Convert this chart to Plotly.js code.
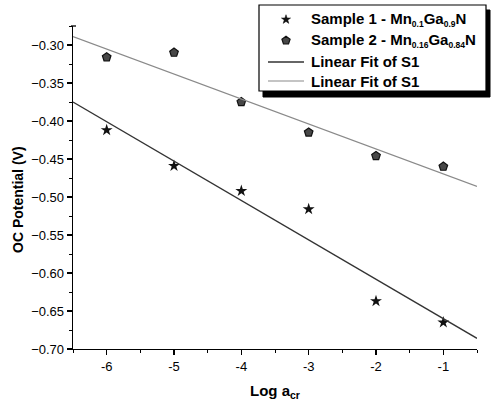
<!DOCTYPE html>
<html>
<head>
<meta charset="utf-8">
<script src="https://cdn.plot.ly/plotly-3.0.1.min.js"></script>
<style>html,body{margin:0;padding:0;background:#fff;}#chart{width:492px;height:401px;}</style>
</head>
<body>
<div id="chart"></div>
<script>
// Data
const logA = [-6, -5, -4, -3, -2, -1];
const sample1 = [-0.412, -0.459, -0.492, -0.516, -0.637, -0.665];
const sample2 = [-0.316, -0.310, -0.375, -0.415, -0.446, -0.460];
// Linear-fit lines as drawn (end points)
const fitX = [-6.5, -0.5];
const fit1 = [-0.375, -0.686];
const fit2 = [-0.289, -0.486];
const sb = s => '<sub><span style="font-size:8.5px">' + s + '</span></sub>';
const names = [
  "<b>Sample 1 - Mn" + sb('0.1') + "Ga" + sb('0.9') + "N</b>",
  "<b>Sample 2 - Mn" + sb('0.16') + "Ga" + sb('0.84') + "N</b>",
  "<b>Linear Fit of S1</b>",
  "<b>Linear Fit of S1</b>"
];

const W = 492, H = 401, ML = 73, MR = 15, MT = 26, MB = 52;
const PW = W - ML - MR, PH = H - MT - MB;
const px = x => (x - ML) / PW;
const py = y => (H - MB - y) / PH;

const star = {symbol: 'star', size: 9, color: '#111', line: {width: 0}};
const pent = {symbol: 'pentagon', size: 9, color: '#474747', line: {width: 1.2, color: '#111'}};
const line1 = {color: '#333', width: 1.3};
const line2 = {color: '#8a8a8a', width: 1.1};

// hand-built legend (box with drop shadow, as in the reference)
const LEG = {x0: 259, y0: 5, x1: 486, y1: 91, rows: [19.5, 40.5, 62, 81], sym: 286, l0: 268, l1: 304, tx: 309};

function polyPath(cx, cy, n, R, r) {
  const pts = [];
  const k = r ? 2 * n : n;
  for (let i = 0; i < k; i++) {
    const a = -Math.PI / 2 + i * Math.PI * 2 / k;
    const rad = (r && i % 2) ? r : R;
    pts.push(px(cx + rad * Math.cos(a)).toFixed(5) + ',' + py(cy + rad * Math.sin(a)).toFixed(5));
  }
  return 'M' + pts.join('L') + 'Z';
}
const pshape = (path, fill, lc, lw) => ({type: 'path', xref: 'paper', yref: 'paper', layer: 'above',
  path: path, fillcolor: fill, line: {color: lc, width: lw}});
const lshape = (x0, y0, x1, y1, ln) => ({type: 'line', xref: 'paper', yref: 'paper', layer: 'above',
  x0: px(x0), y0: py(y0), x1: px(x1), y1: py(y1), line: ln});

const traces = [
  {x: logA, y: sample1, mode: 'markers', name: names[0], marker: star},
  {x: logA, y: sample2, mode: 'markers', name: names[1], marker: pent},
  {x: fitX, y: fit1, mode: 'lines', name: names[2], line: line1},
  {x: fitX, y: fit2, mode: 'lines', name: names[3], line: line2}
];

const layout = {
  width: W, height: H,
  margin: {l: ML, r: MR, t: MT, b: MB},
  paper_bgcolor: '#fff', plot_bgcolor: '#fff',
  font: {family: 'Arial, "Liberation Sans", sans-serif', color: '#000', size: 13},
  showlegend: false,
  xaxis: {
    range: [-6.5, -0.5], showgrid: false, zeroline: false,
    showline: true, linecolor: '#000', linewidth: 1.3, mirror: false,
    ticks: 'outside', ticklen: 5, tickwidth: 1.2, tickcolor: '#000',
    tickvals: [-6, -5, -4, -3, -2, -1], ticktext: ['-6', '-5', '-4', '-3', '-2', '-1'],
    minor: {ticks: 'outside', ticklen: 3, tickcolor: '#000', tickwidth: 1, dtick: 0.5, showgrid: false},
    tickfont: {size: 13},
    title: {text: '<b>Log a<sub>cr</sub></b>', font: {size: 15}, standoff: 12}
  },
  yaxis: {
    range: [-0.70, -0.275], showgrid: false, zeroline: false,
    showline: true, linecolor: '#000', linewidth: 1.3, mirror: false,
    ticks: 'outside', ticklen: 5, tickwidth: 1.2, tickcolor: '#000',
    tick0: -0.70, dtick: 0.05, tickformat: '.2f',
    minor: {ticks: 'outside', ticklen: 3, tickcolor: '#000', tickwidth: 1, dtick: 0.025, showgrid: false},
    tickfont: {size: 13}
  },
  shapes: [
    // small cap at the top end of the y axis
    lshape(ML - 2, MT, ML + 3, MT, {color: '#000', width: 1.3}),
    // legend drop shadow, then legend box
    {type: 'rect', xref: 'paper', yref: 'paper', layer: 'above',
     x0: px(LEG.x0 + 4), x1: px(LEG.x1 + 4), y0: py(LEG.y1 + 6), y1: py(LEG.y0 + 5),
     fillcolor: '#000', line: {color: '#000', width: 1}},
    {type: 'rect', xref: 'paper', yref: 'paper', layer: 'above',
     x0: px(LEG.x0), x1: px(LEG.x1), y0: py(LEG.y1), y1: py(LEG.y0),
     fillcolor: '#fff', line: {width: 1.2, color: '#000'}},
    // legend symbols
    pshape(polyPath(LEG.sym, LEG.rows[0], 5, 4.8, 1.9), '#111', '#111', 0.5),
    pshape(polyPath(LEG.sym, LEG.rows[1], 5, 4.3, 0), '#474747', '#111', 1.2),
    lshape(LEG.l0, LEG.rows[2], LEG.l1, LEG.rows[2], line1),
    lshape(LEG.l0, LEG.rows[3], LEG.l1, LEG.rows[3], line2)
  ],
  annotations: [
    {text: '<b>OC Potential (V)</b>', xref: 'paper', yref: 'paper', x: px(18), y: py(199),
     textangle: -90, showarrow: false, font: {size: 14}, xanchor: 'center', yanchor: 'middle'}
  ].concat(names.map((t, i) => ({
    text: t, xref: 'paper', yref: 'paper', x: px(LEG.tx), y: py(LEG.rows[i]),
    xanchor: 'left', yanchor: 'middle', showarrow: false, font: {size: 15}
  })))
};

Plotly.newPlot('chart', traces, layout, {displayModeBar: false, staticPlot: true});
</script>
</body>
</html>
